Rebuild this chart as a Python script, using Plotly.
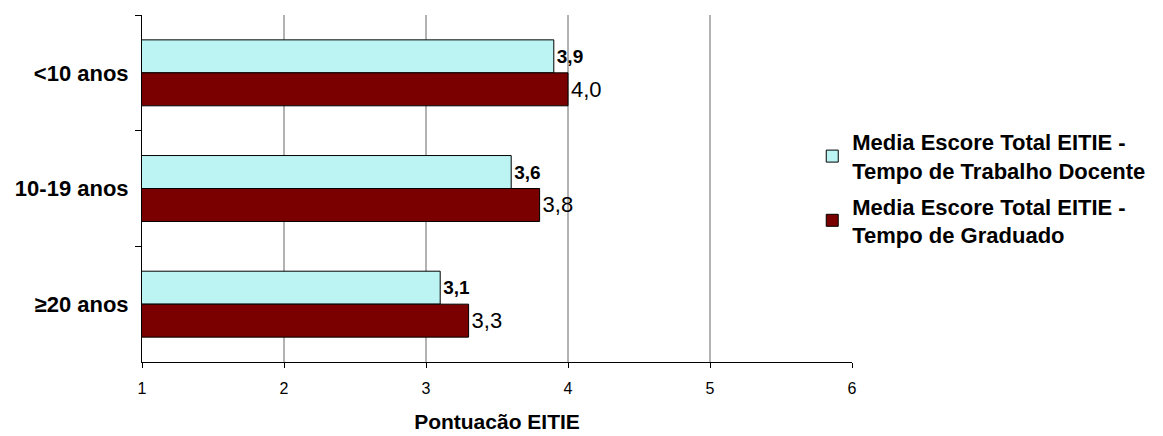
import plotly.graph_objects as go

categories = ["<10 anos", "10-19 anos", "≥20 anos"]
docente = [3.9, 3.6, 3.1]
graduado = [4.0, 3.8, 3.3]
x_ticks = [1, 2, 3, 4, 5, 6]
grid_at = [2, 3, 4, 5]

font = "Liberation Sans, Arial, sans-serif"

fig = go.Figure()
fig.add_trace(
    go.Bar(
        y=categories,
        x=docente,
        orientation="h",
        name="Media Escore Total EITIE -<br>Tempo de Trabalho Docente",
        legendgroup="docente",
        marker={"color": "#BCF4F4", "line": {"color": "#000000", "width": 1}},
        texttemplate="<b>%{x:.1f}</b>",
        textposition="outside",
        textfont={"size": 19, "color": "#000000", "family": font},
        cliponaxis=False,
    )
)
fig.add_trace(
    go.Bar(
        y=categories,
        x=graduado,
        orientation="h",
        name="Media Escore Total EITIE -<br>Tempo de Graduado",
        legendgroup="graduado",
        marker={"color": "#7A0000", "line": {"color": "#000000", "width": 1}},
        texttemplate="%{x:.1f}",
        textposition="outside",
        textfont={"size": 22, "color": "#000000", "family": font},
        cliponaxis=False,
    )
)

for g in grid_at:
    fig.add_vline(x=g, line={"color": "#666666", "width": 1}, layer="below")

fig.update_layout(
    width=1163,
    height=436,
    separators=",.",
    barmode="group",
    bargap=0.43,
    bargroupgap=0,
    plot_bgcolor="white",
    paper_bgcolor="white",
    font={"family": font, "color": "#000000"},
    margin={"l": 142, "r": 311, "t": 15, "b": 74, "autoexpand": False},
    legend={
        "x": 0.944,
        "y": 0.5,
        "xanchor": "left",
        "yanchor": "middle",
        "itemwidth": 30,
        "font": {"size": 22, "family": font, "weight": "bold"},
        "tracegroupgap": 4,
    },
    xaxis={
        "range": [1, 6],
        "tickvals": x_ticks,
        "showgrid": False,
        "zeroline": False,
        "showline": True,
        "linecolor": "#000000",
        "ticks": "outside",
        "ticklen": 5,
        "tickcolor": "#000000",
        "tickfont": {"size": 16},
        "ticklabelstandoff": 7,
        "automargin": False,
        "title": {
            "text": "<b>Pontuacão EITIE</b>",
            "font": {"size": 21},
            "standoff": 18,
        },
    },
    yaxis={
        "autorange": "reversed",
        "showline": True,
        "linecolor": "#000000",
        "ticks": "outside",
        "tickson": "boundaries",
        "ticklen": 6,
        "tickcolor": "#000000",
        "tickfont": {"size": 22, "weight": "bold"},
        "ticklabelstandoff": 8,
        "automargin": False,
    },
)

# drop the default body margin so the figure sits at the page origin
no_margin_css = (
    "var s=document.createElement('style');"
    "s.textContent='html,body{margin:0;padding:0;overflow:hidden}';"
    "document.head.appendChild(s);"
)
fig.write_html(
    "out.html",
    config={"displayModeBar": False},
    post_script=no_margin_css,
)
